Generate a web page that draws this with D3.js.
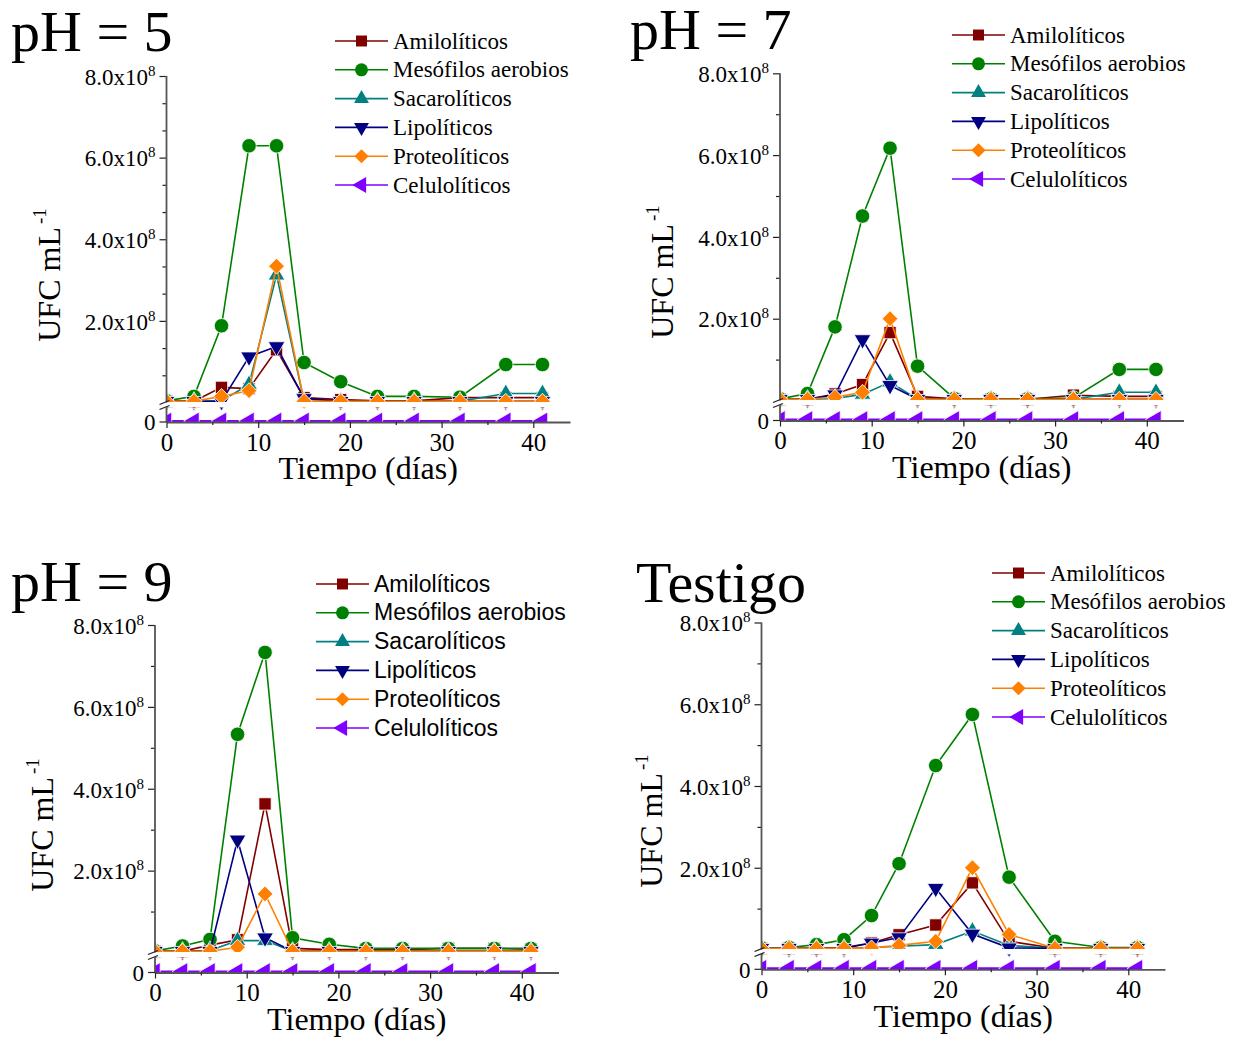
<!DOCTYPE html>
<html>
<head>
<meta charset="utf-8">
<script src="https://cdn.jsdelivr.net/npm/d3@7"></script>
<style>
body { margin: 0; background: #fff; }
svg { display: block; }
</style>
</head>
<body>
<div id="chart"></div>
<script>
"use strict";

// sampling days
const days = [0, 3, 6, 9, 12, 15, 19, 23, 27, 32, 37, 41];

const seriesNames = ["Amilolíticos", "Mesófilos aerobios", "Sacarolíticos", "Lipolíticos", "Proteolíticos", "Celulolíticos"];
const seriesColors = ["#800000", "#008000", "#008080", "#000080", "#ff8000", "#8000ff"];

const xMajorTicks = [0, 10, 20, 30, 40];
const xMinorTicks = [5, 15, 25, 35];
const yMajorTicks = [2e8, 4e8, 6e8, 8e8];
const yMinorHalves = [1e8, 3e8, 5e8, 7e8];
const yMinorThirds = [2e8 / 3, 4e8 / 3, 8e8 / 3, 10e8 / 3, 14e8 / 3, 16e8 / 3, 20e8 / 3, 22e8 / 3];

// UFC/mL in units of 10^6, one row per series (same order as seriesNames)
const ph5Values = [
   [3, 3, 37, 34, 129, 12, 7, 4, 4, 12, 12, 12],
   [4, 15, 188, 629, 629, 98, 51, 15, 15, 13, 93, 93],
   [3, 3, 4, 44, 312, 3, 3, 3, 3, 3, 22, 22],
   [3, 3, 3, 112, 137, 10, 3, 3, 3, 3, 3, 3],
   [3, 3, 15, 29, 334, 3, 3, 3, 3, 3, 3, 3],
   [0, 0, 0, 0, 0, 0, 0, 0, 0, 0, 0, 0]
];

const ph7Values = [
   [3, 3, 16, 39, 166, 10, 4, 3, 3, 13, 10, 10],
   [4, 17, 180, 451, 617, 84, 5, 4, 4, 6, 76, 76],
   [3, 3, 5, 15, 45, 3, 3, 3, 3, 3, 20, 20],
   [3, 3, 14, 149, 37, 3, 3, 3, 3, 3, 3, 3],
   [3, 3, 8, 20, 200, 3, 3, 3, 3, 3, 3, 3],
   [0, 0, 0, 0, 0, 0, 0, 0, 0, 0, 0, 0]
];

const ph9Values = [
   [3, 3, 18, 31, 363, 10, 7, 7, 7, 10, 10, 8],
   [4, 16, 32, 533, 733, 36, 20, 10, 10, 10, 10, 10],
   [3, 3, 5, 29, 29, 3, 3, 3, 3, 3, 3, 3],
   [3, 3, 3, 275, 36, 3, 3, 3, 3, 3, 3, 3],
   [3, 3, 3, 13, 143, 3, 3, 3, 3, 3, 3, 3],
   [0, 0, 0, 0, 0, 0, 0, 0, 0, 0, 0, 0]
];

const testigoValues = [
   [3, 3, 3, 5, 16, 36, 60, 163, 20, 3, 3, 3],
   [4, 5, 12, 24, 83, 210, 450, 575, 177, 20, 5, 5],
   [3, 3, 3, 3, 5, 8, 12, 45, 10, 3, 3, 3],
   [3, 3, 3, 3, 16, 29, 150, 38, 4, 3, 3, 3],
   [3, 3, 3, 3, 4, 10, 20, 200, 37, 3, 3, 3],
   [0, 0, 0, 0, 0, 0, 0, 0, 0, 0, 0, 0]
];

const serif = "'Liberation Serif','Times New Roman',serif";
const sans = "'Liberation Sans',Arial,sans-serif";

const panels = [
   { title: "pH = 5", values: ph5Values, ox: 166.5, topY: 76, zeroY: 402.5, axisY: 422, minor: yMinorThirds,
     titleX: 11, titleY: 51, legendX: 335, legendY: 41, legendFont: serif, yLabelX: 60, yLabelY: 275, xLabelY: 479 },
   { title: "pH = 7", values: ph7Values, ox: 780, topY: 73.3, zeroY: 400.5, axisY: 420.5, minor: yMinorHalves,
     titleX: 630, titleY: 49, legendX: 952, legendY: 35, legendFont: serif, yLabelX: 673, yLabelY: 272, xLabelY: 478 },
   { title: "pH = 9", values: ph9Values, ox: 155, topY: 625, zeroY: 952.5, axisY: 972.5, minor: yMinorHalves,
     titleX: 11, titleY: 601, legendX: 316, legendY: 584, legendFont: sans, yLabelX: 53, yLabelY: 825, xLabelY: 1030 },
   { title: "Testigo", values: testigoValues, ox: 761.5, topY: 622.5, zeroY: 949.5, axisY: 969.3, minor: yMinorHalves,
     titleX: 636, titleY: 602, legendX: 992, legendY: 573, legendFont: serif, yLabelX: 662, yLabelY: 821, xLabelY: 1027 }
];

const symbolTypes = [d3.symbolSquare, d3.symbolCircle, d3.symbolTriangle, d3.symbolTriangle, d3.symbolSquare, d3.symbolTriangle];
const symbolRotate = [0, 0, 0, 180, 45, -90];
const symbolSizes = [150, 165, 120, 120, 125, 140];

const svg = d3.select("#chart").append("svg")
   .attr("width", 1235)
   .attr("height", 1041)
   .style("background", "#fff");

const defs = svg.append("defs");

function drawSeries(layer, x, y, values, i, withLine) {
   const pts = days.map((d, k) => [d, values[k] * 1e6]);
   const line = d3.line().x(d => x(d[0])).y(d => y(d[1]));
   if (withLine) {
      layer.append("path")
         .attr("d", line(pts))
         .attr("fill", "none")
         .attr("stroke", seriesColors[i])
         .attr("stroke-width", i === 5 ? 2.2 : 1.6);
   }
   const sym = d3.symbol().type(symbolTypes[i]).size(symbolSizes[i]);
   layer.selectAll(null)
      .data(pts)
      .join("path")
      .attr("d", sym)
      .attr("transform", d => `translate(${x(d[0])},${y(d[1])}) rotate(${symbolRotate[i]})`)
      .attr("fill", seriesColors[i])
      .attr("stroke", "#fff")
      .attr("stroke-width", 0.8);
}

function styleAxis(g, size) {
   g.select(".domain").attr("stroke", "#555").attr("stroke-width", 1.8);
   g.selectAll(".tick line").attr("stroke", "#222").attr("stroke-width", 1.2);
   g.selectAll(".tick text").attr("font-family", serif).attr("font-size", size).attr("fill", "#000");
}

panels.forEach((p, idx) => {
   const g = svg.append("g");
   const xEnd = p.ox + 44 * 9.17;
   const x = d3.scaleLinear().domain([0, 44]).range([p.ox, xEnd]);
   const yUp = d3.scaleLinear().domain([0, 8e8]).range([p.zeroY, p.topY]);
   const yLow = d3.scaleLinear().domain([0, 1]).range([p.axisY - 1, p.zeroY + 5]);

   // clip regions of the broken axis
   defs.append("clipPath").attr("id", "up" + idx)
      .append("rect")
      .attr("x", p.ox).attr("y", p.topY - 30)
      .attr("width", xEnd - p.ox).attr("height", p.zeroY - 0.5 - (p.topY - 30));
   defs.append("clipPath").attr("id", "low" + idx)
      .append("rect")
      .attr("x", p.ox).attr("y", p.zeroY + 5)
      .attr("width", xEnd - p.ox).attr("height", p.axisY - (p.zeroY + 5));

   const upper = g.append("g").attr("clip-path", `url(#up${idx})`);
   const lower = g.append("g").attr("clip-path", `url(#low${idx})`);

   for (let i = 0; i < 5; i++) {
      drawSeries(upper, x, yUp, p.values[i], i, true);
   }
   for (let i = 0; i < 5; i++) {
      drawSeries(lower, x, yUp, p.values[i], i, false);
   }
   drawSeries(lower, x, yLow, p.values[5], 5, true);

   // x axis
   const xa = g.append("g")
      .attr("transform", `translate(0,${p.axisY})`)
      .call(d3.axisBottom(x).tickValues(xMajorTicks).tickSize(6).tickPadding(5).tickSizeOuter(0));
   styleAxis(xa, 25);
   const xm = g.append("g")
      .attr("transform", `translate(0,${p.axisY})`)
      .call(d3.axisBottom(x).tickValues(xMinorTicks).tickSize(3).tickFormat(""));
   xm.select(".domain").remove();
   styleAxis(xm, 25);

   // upper y axis
   const ya = g.append("g")
      .attr("transform", `translate(${p.ox},0)`)
      .call(d3.axisLeft(yUp).tickValues(yMajorTicks).tickSize(7).tickPadding(4).tickSizeOuter(0));
   ya.select(".domain").remove();
   styleAxis(ya, 23);
   ya.selectAll(".tick text").each(function (d) {
      const t = d3.select(this);
      t.text(null).attr("dy", "0.36em");
      t.append("tspan").text((d / 1e8).toFixed(1) + "x10");
      t.append("tspan").attr("dy", -9).attr("font-size", 15).text("8");
   });
   const ym = g.append("g")
      .attr("transform", `translate(${p.ox},0)`)
      .call(d3.axisLeft(yUp).tickValues(p.minor).tickSize(4).tickFormat(""));
   ym.select(".domain").remove();
   styleAxis(ym, 23);

   g.append("line")
      .attr("x1", p.ox).attr("x2", p.ox)
      .attr("y1", p.topY).attr("y2", p.zeroY)
      .attr("stroke", "#555").attr("stroke-width", 1.8);

   // lower y axis segment
   g.append("line")
      .attr("x1", p.ox).attr("x2", p.ox)
      .attr("y1", p.zeroY + 5).attr("y2", p.axisY)
      .attr("stroke", "#555").attr("stroke-width", 1.8);
   g.append("line")
      .attr("x1", p.ox - 7).attr("x2", p.ox)
      .attr("y1", p.axisY).attr("y2", p.axisY)
      .attr("stroke", "#222").attr("stroke-width", 1.2);
   g.append("text")
      .attr("x", p.ox - 11).attr("y", p.axisY)
      .attr("dy", "0.36em")
      .attr("text-anchor", "end")
      .attr("font-family", serif).attr("font-size", 23)
      .text("0");

   // break marks
   [p.zeroY, p.zeroY + 5].forEach(yb => {
      g.append("line")
         .attr("x1", p.ox - 7).attr("x2", p.ox + 3)
         .attr("y1", yb + 2).attr("y2", yb - 2)
         .attr("stroke", "#222").attr("stroke-width", 1.3);
   });

   // axis titles
   g.append("text")
      .attr("x", (p.ox + xEnd) / 2).attr("y", p.xLabelY)
      .attr("text-anchor", "middle")
      .attr("font-family", serif).attr("font-size", 32)
      .text("Tiempo (días)");

   const yl = g.append("text")
      .attr("transform", `translate(${p.yLabelX},${p.yLabelY}) rotate(-90)`)
      .attr("text-anchor", "middle")
      .attr("font-family", serif).attr("font-size", 32);
   yl.append("tspan").text("UFC mL");
   yl.append("tspan").attr("dx", 3).attr("dy", -14).attr("font-size", 19).text("-1");

   // panel title
   g.append("text")
      .attr("x", p.titleX).attr("y", p.titleY)
      .attr("font-family", serif).attr("font-size", 58)
      .text(p.title);

   // legend
   const lg = g.append("g").attr("transform", `translate(${p.legendX},${p.legendY})`);
   seriesNames.forEach((name, i) => {
      const row = lg.append("g").attr("transform", `translate(0,${i * 28.8})`);
      row.append("line")
         .attr("x1", 0).attr("x2", 53)
         .attr("stroke", seriesColors[i]).attr("stroke-width", 1.6);
      row.append("path")
         .attr("d", d3.symbol().type(symbolTypes[i]).size(symbolSizes[i] * 0.8)())
         .attr("transform", `translate(26.5,0) rotate(${symbolRotate[i]})`)
         .attr("fill", seriesColors[i]);
      row.append("text")
         .attr("x", 58).attr("dy", "0.33em")
         .attr("font-family", p.legendFont).attr("font-size", 23)
         .text(name);
   });
});
</script>
</body>
</html>
